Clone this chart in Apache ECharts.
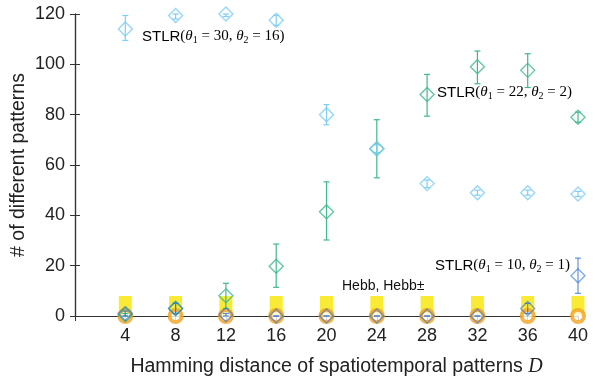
<!DOCTYPE html>
<html>
<head>
<meta charset="utf-8">
<script src="https://cdn.jsdelivr.net/npm/echarts@6/dist/echarts.min.js"></script>
<style>
html,body{margin:0;padding:0;background:#fff;}
#chart{width:595px;height:376px;}
</style>
</head>
<body>
<div id="chart"></div>
<script>
// Hamming distance D
var distances = [4, 8, 12, 16, 20, 24, 28, 32, 36, 40];
// STLR(theta1=30, theta2=16)
var stlr30 = [114, 119.4, 120, 117.5, 80, 66.5, 52.6, 49, 49, 48.5];
var stlr30Low = [109.5, 118, 119, 115.5, 76, 65, 51, 48, 48, 47.5];
var stlr30High = [119.4, 120, 120, 119.5, 84, 68, 54, 50, 50, 49.5];
// STLR(theta1=22, theta2=2)
var stlr22 = [0.5, 3, 8, 19.8, 41.4, 66.5, 88, 99, 97.6, 79];
var stlr22Low = [0, 1, 3, 11.4, 30.2, 54.9, 79.4, 92.3, 90.8, 77];
var stlr22High = [1, 5, 13, 28.6, 53.3, 78, 96, 105.3, 104.2, 81];
// STLR(theta1=10, theta2=1)
var stlr10 = [1, 3, 0.5, 0, 0, 0, 0, 0, 3, 16];
var stlr10Low = [0, 1, 0, 0, 0, 0, 0, 0, 1, 9];
var stlr10High = [2, 5, 1, 0, 0, 0, 0, 0, 5, 23];
// Hebb, Hebb±
var hebb = [0, 0, 0, 0, 0, 0, 0, 0, 0, 0];
var hebbPm = [0, 0, 0, 0, 0, 0, 0, 0, 0, 0];

var cLight = '#7dcdf5';
var cGreen = '#3fb98b';
var cDark = 'rgba(47,111,214,0.75)';
var cOrange = '#f2a21f';
var cYellow = '#f7e600';

function pairs(ys) {
  return distances.map(function (x, i) { return [x, ys[i]]; });
}
function errData(lo, hi) {
  return distances.map(function (x, i) { return [x, lo[i], hi[i]]; });
}
function errSeries(lo, hi, color) {
  return {
    type: 'custom',
    silent: true,
    z: 3,
    data: errData(lo, hi),
    renderItem: function (params, api) {
      var x = api.value(0);
      var p1 = api.coord([x, api.value(1)]);
      var p2 = api.coord([x, api.value(2)]);
      var cap = 3;
      var st = { stroke: color, lineWidth: 1.2 };
      return {
        type: 'group',
        children: [
          { type: 'line', shape: { x1: p1[0], y1: p1[1], x2: p2[0], y2: p2[1] }, style: st },
          { type: 'line', shape: { x1: p1[0] - cap, y1: p1[1], x2: p1[0] + cap, y2: p1[1] }, style: st },
          { type: 'line', shape: { x1: p2[0] - cap, y1: p2[1], x2: p2[0] + cap, y2: p2[1] }, style: st }
        ]
      };
    }
  };
}
function diamondSeries(ys, color, z) {
  return {
    type: 'scatter',
    data: pairs(ys),
    symbol: 'diamond',
    symbolSize: 14,
    z: z,
    itemStyle: { color: 'rgba(255,255,255,0)', borderColor: color, borderWidth: 1.4 }
  };
}

var rich = {
  s: { fontFamily: 'Liberation Sans', fontSize: 15, color: '#111' },
  m: { fontFamily: 'Liberation Serif', fontStyle: 'italic', fontSize: 15, color: '#111' },
  n: { fontFamily: 'Liberation Serif', fontSize: 15, color: '#111' },
  b: { fontFamily: 'Liberation Serif', fontSize: 10, color: '#111', padding: [8, 0, 0, 0] }
};
function stlrLabel(a, b) {
  return '{s|STLR}{n|(}{m|θ}{b|1}{n| = ' + a + ', }{m|θ}{b|2}{n| = ' + b + ')}';
}

var chart = echarts.init(document.getElementById('chart'));
chart.setOption({
  animation: false,
  backgroundColor: '#fff',
  grid: { left: 75, right: 17, top: 14, bottom: 60, containLabel: false, outerBoundsMode: 'none' },
  xAxis: [{
    type: 'value', min: 0, max: 40, interval: 4,
    name: 'Hamming distance of spatiotemporal patterns {i|D}',
    nameLocation: 'middle', nameGap: 41,
    nameTextStyle: {
      fontFamily: 'Liberation Sans', fontSize: 19.5, color: '#222', padding: [0, 0, 0, 20],
      rich: { i: { fontFamily: 'Liberation Serif', fontStyle: 'italic', fontSize: 20, color: '#222' } }
    },
    axisLine: { lineStyle: { color: '#333', width: 1.2 } },
    axisTick: { inside: true, length: 5, lineStyle: { color: '#333' } },
    axisLabel: {
      fontFamily: 'Liberation Sans', fontSize: 18, color: '#222', margin: 11,
      formatter: function (v) { return v === 0 ? '' : v; }
    },
    splitLine: { show: false }
  }, {
    type: 'value', min: 0, max: 40, interval: 4, position: 'top',
    axisLine: { lineStyle: { color: '#333', width: 1.2 } },
    axisTick: { inside: true, length: 5, lineStyle: { color: '#333' } },
    axisLabel: { show: false },
    splitLine: { show: false }
  }],
  yAxis: [{
    type: 'value', min: 0, max: 120, interval: 20,
    name: '# of different patterns',
    nameLocation: 'middle', nameGap: 46, nameMoveOverlap: false,
    nameTextStyle: { fontFamily: 'Liberation Sans', fontSize: 19.5, color: '#222' },
    axisLine: { show: true, lineStyle: { color: '#333', width: 1.2 } },
    axisTick: { show: true, inside: true, length: 5, lineStyle: { color: '#333' } },
    axisLabel: { fontFamily: 'Liberation Sans', fontSize: 18, color: '#222', margin: 10 },
    splitLine: { show: false }
  }, {
    type: 'value', min: 0, max: 120, interval: 20, position: 'right',
    axisLine: { show: true, lineStyle: { color: '#333', width: 1.2 } },
    axisTick: { show: true, inside: true, length: 5, lineStyle: { color: '#333' } },
    axisLabel: { show: false },
    splitLine: { show: false }
  }],
  series: [
    {
      type: 'scatter',
      data: pairs(hebbPm),
      symbol: 'rect',
      symbolSize: [13, 20],
      symbolOffset: [0, '-50%'],
      z: 1,
      itemStyle: { color: cYellow }
    },
    {
      type: 'scatter',
      data: pairs(hebb),
      symbol: 'circle',
      symbolSize: 12,
      z: 2,
      itemStyle: { color: '#fff', borderColor: cOrange, borderWidth: 4 }
    },
    errSeries(stlr22Low, stlr22High, cGreen),
    errSeries(stlr30Low, stlr30High, cLight),
    errSeries(stlr10Low, stlr10High, cDark),
    diamondSeries(stlr22, cGreen, 4),
    diamondSeries(stlr10, cDark, 5),
    diamondSeries(stlr30, cLight, 6)
  ],
  graphic: [
    { type: 'text', left: 142, top: 29, style: { text: stlrLabel(30, 16), rich: rich } },
    { type: 'text', left: 437, top: 85, style: { text: stlrLabel(22, 2), rich: rich } },
    { type: 'text', left: 435, top: 258, style: { text: stlrLabel(10, 1), rich: rich } },
    { type: 'text', left: 342, top: 279, style: { text: 'Hebb, Hebb±', font: '14px "Liberation Sans"', fill: '#111' } }
  ]
});
</script>
</body>
</html>
